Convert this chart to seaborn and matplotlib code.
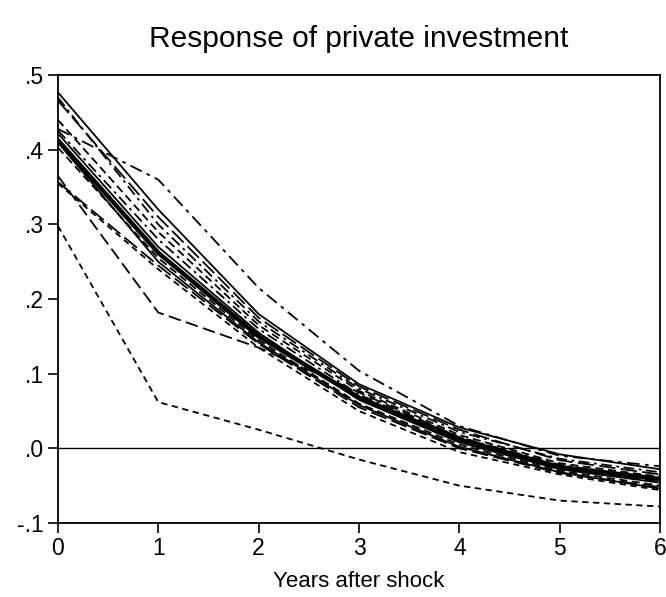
import matplotlib

matplotlib.use("Agg")

import matplotlib.pyplot as plt
import numpy as np
import pandas as pd
import seaborn as sns

years = [0, 1, 2, 3, 4, 5, 6]

mean_response = [0.413, 0.262, 0.150, 0.068, 0.012, -0.025, -0.041]

responses = {
    "s01": [0.428, 0.360, 0.215, 0.104, 0.030, -0.010, -0.024],
    "s02": [0.365, 0.182, 0.135, 0.075, 0.015, -0.025, -0.045],
    "s03": [0.298, 0.062, 0.025, -0.015, -0.050, -0.070, -0.078],
    "s04": [0.477, 0.320, 0.180, 0.086, 0.028, -0.008, -0.028],
    "s05": [0.470, 0.300, 0.170, 0.080, 0.022, -0.014, -0.032],
    "s06": [0.466, 0.310, 0.175, 0.083, 0.025, -0.016, -0.035],
    "s07": [0.440, 0.290, 0.165, 0.077, 0.018, -0.020, -0.038],
    "s08": [0.426, 0.280, 0.160, 0.072, 0.015, -0.022, -0.042],
    "s09": [0.422, 0.270, 0.155, 0.065, 0.008, -0.028, -0.046],
    "s10": [0.403, 0.255, 0.145, 0.060, 0.005, -0.030, -0.050],
    "s11": [0.357, 0.245, 0.140, 0.055, 0.000, -0.033, -0.052],
    "s12": [0.355, 0.240, 0.135, 0.050, -0.005, -0.035, -0.056],
    "s13": [0.410, 0.250, 0.142, 0.058, 0.002, -0.032, -0.054],
}

styles = {
    "s01": (0, (7, 3, 2, 3)),
    "s02": (0, (7, 3)),
    "s03": (0, (3.5, 2.5)),
    "s04": "-",
    "s05": (0, (6, 2.5, 1.5, 2.5)),
    "s06": (0, (9, 3)),
    "s07": (0, (4.5, 2.5)),
    "s08": (0, (6, 2.5, 1.5, 2.5)),
    "s09": "-",
    "s10": (0, (4.5, 2.5)),
    "s11": (0, (9, 3)),
    "s12": (0, (3.5, 2.5)),
    "s13": "-",
}

sns.set_theme(style="ticks")
plt.rcParams["font.family"] = ["Liberation Sans", "DejaVu Sans"]
plt.rcParams["text.color"] = "black"
plt.rcParams["axes.labelcolor"] = "black"

fig, ax = plt.subplots(figsize=(6.66, 5.97), dpi=100)
fig.subplots_adjust(left=0.087, right=0.991, top=0.874, bottom=0.124)

for name, vals in responses.items():
    sns.lineplot(x=years, y=vals, ax=ax, color="black", linewidth=1.3,
                 linestyle=styles[name])
sns.lineplot(x=years, y=mean_response, ax=ax, color="black", linewidth=3.2)

ax.axhline(0, color="black", linewidth=1.0)

ax.set_xlim(0, 6)
ax.set_ylim(-0.1, 0.5)
ax.set_xticks(years)
yt = [-0.1, 0.0, 0.1, 0.2, 0.3, 0.4, 0.5]
ax.set_yticks(yt)
ax.set_yticklabels(["-.1", ".0", ".1", ".2", ".3", ".4", ".5"])
ax.tick_params(axis="both", direction="out", length=7, width=1.2, labelsize=16.5,
               colors="black", pad=3)
for sp in ax.spines.values():
    sp.set_visible(True)
    sp.set_linewidth(1.3)
    sp.set_color("black")

ax.set_title("Response of private investment", fontsize=21.5, pad=20, color="black")
ax.set_xlabel("Years after shock", fontsize=16, labelpad=8, color="black")
ax.set_ylabel("")

plt.savefig("out.png", dpi=100)
